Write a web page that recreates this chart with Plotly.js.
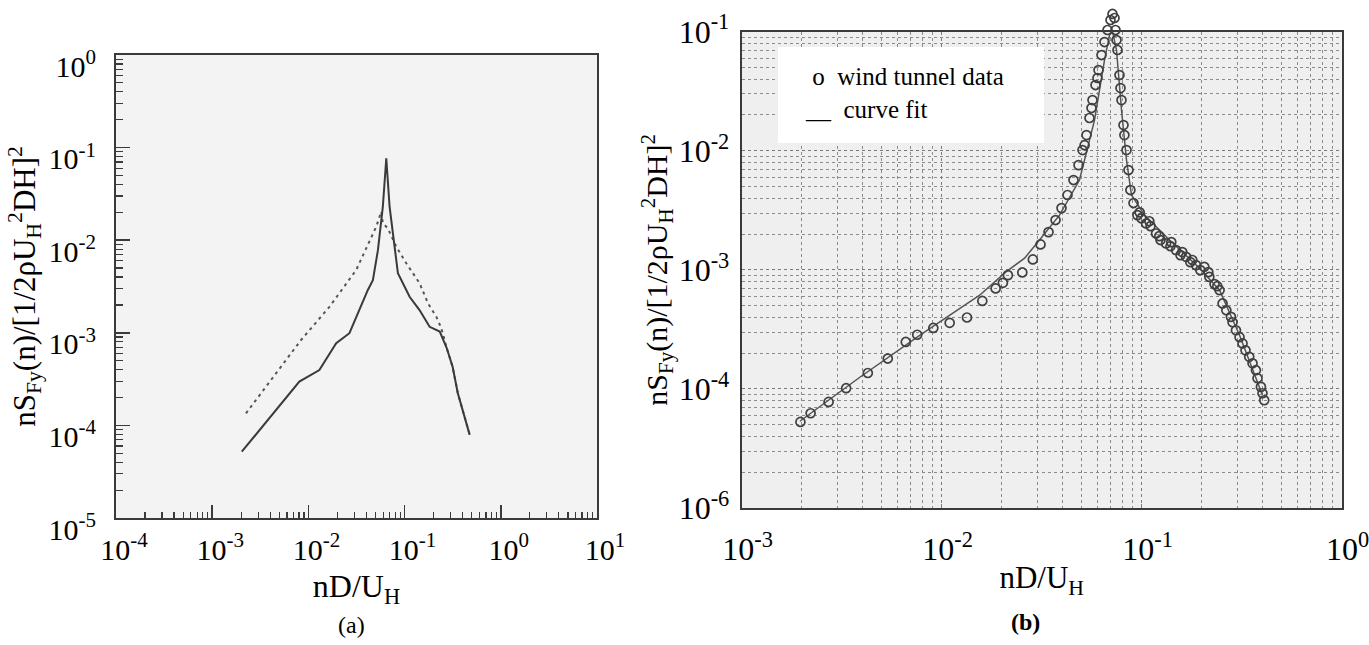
<!DOCTYPE html>
<html><head><meta charset="utf-8">
<script src="https://cdn.plot.ly/plotly-3.0.1.min.js"></script>
<style>html,body{margin:0;padding:0;background:#fff}#chart{width:1369px;height:645px}</style>
</head><body><div id="chart"></div>
<script>
// ---- Panel (a) data ----
const leftSolidX = [0.00203, 0.00805, 0.0130, 0.01945, 0.0267, 0.0415, 0.0468, 0.0528, 0.0594, 0.0645, 0.0698, 0.0787, 0.0852, 0.1127, 0.143, 0.182, 0.232, 0.274, 0.316, 0.357, 0.412, 0.475];
const leftSolidY = [5.2e-5, 2.97e-4, 3.96e-4, 7.7e-4, 9.9e-4, 2.9e-3, 3.7e-3, 7.8e-3, 0.023, 0.0766, 0.023, 7.8e-3, 4.4e-3, 2.45e-3, 1.76e-3, 1.16e-3, 1.03e-3, 6.85e-4, 4.27e-4, 2.24e-4, 1.29e-4, 7.9e-5];
const leftDotX = [0.002244, 0.00839, 0.01656, 0.03141, 0.0507, 0.05717, 0.05943, 0.06699, 0.0819, 0.1042, 0.1432, 0.175, 0.2138, 0.2411, 0.274, 0.316, 0.357, 0.412, 0.475];
const leftDotY = [1.35e-4, 8.36e-4, 1.91e-3, 4.77e-3, 0.01399, 0.02032, 0.01522, 0.01344, 8.51e-3, 5.63e-3, 3.43e-3, 2.08e-3, 1.49e-3, 1.12e-3, 6.85e-4, 4.27e-4, 2.24e-4, 1.29e-4, 7.9e-5];

// ---- Panel (b) data ----
const tunnelX = [0.001966,0.002211,0.002719,0.003328,0.004272,0.005375,0.006612,0.007545,0.00908,0.01096,
  0.01338,0.01596,0.01861,0.02023,0.02143,0.02529,0.02856,0.0312,0.03421,0.03709,
  0.03973,0.04256,0.0456,0.04831,0.05058,0.05297,0.05483,0.05676,0.05875,0.06082,
  0.06296,0.06517,0.06746,0.06983,0.07146,0.07312,0.07396,0.07568,0.07745,0.07925,
  0.0811,0.08395,0.0859,0.0878,0.091,0.0952,0.0996,0.1052,0.1107,0.118,
  0.1242,0.1324,0.1393,0.1485,0.1563,0.1666,0.1751,0.1869,0.1963,0.2056,
  0.2178,0.2314,0.2451,0.2537,0.2649,0.2794,0.296,0.3085,0.3193,0.3449,
  0.3582,0.3725,0.3946,0.4018,0.4099,
  0.0977,0.1092,0.1225,0.1406,0.1596,0.1791,0.2153,0.2388,0.2846,0.3305,0.3794,
  0.05182,0.05609,0.0601,0.07482,0.07834,0.08195];
const tunnelY = [5.28e-5,6.25e-5,7.78e-5,1.014e-4,1.36e-4,1.80e-4,2.48e-4,2.85e-4,3.25e-4,3.59e-4,
  3.98e-4,5.48e-4,6.98e-4,7.78e-4,9.03e-4,9.51e-4,1.223e-3,1.635e-3,2.075e-3,2.62e-3,
  3.30e-3,4.25e-3,5.68e-3,7.58e-3,0.01014,0.01355,0.01884,0.02667,0.03565,0.04764,
  0.06368,0.0819,0.1033,0.1254,0.1409,0.1303,0.1033,0.0702,0.04325,0.02667,
  0.01644,0.01014,6.89e-3,4.68e-3,3.64e-3,2.88e-3,2.71e-3,2.45e-3,2.33e-3,2.02e-3,
  1.78e-3,1.667e-3,1.58e-3,1.465e-3,1.33e-3,1.286e-3,1.16e-3,1.096e-3,9.95e-4,1.06e-3,
  8.73e-4,7.59e-4,6.75e-4,5.22e-4,4.58e-4,4.03e-4,3.11e-4,2.72e-4,2.41e-4,1.86e-4,
  1.64e-4,1.436e-4,1.04e-4,9.2e-5,8.03e-5,
  3.04e-3,2.56e-3,1.92e-3,1.71e-3,1.41e-3,1.21e-3,9.57e-4,7.29e-4,3.63e-4,2.11e-4,1.23e-4,
  0.01114,0.02286,0.04083,0.0851,0.03362,0.01355];
const fitX = [0.001954,0.003897,0.007762,0.01548,0.02089,0.02597,0.03083,0.03882,0.04887,0.05808,0.06517,0.06904,0.0715,0.07482,0.07925,0.08395,0.0889,0.1033,0.1377,0.1942,0.2451,0.3085,0.4018];
const fitY = [5.35e-5,1.253e-4,2.82e-4,6.12e-4,9.57e-4,1.253e-3,1.78e-3,2.88e-3,5.68e-3,0.01811,0.0578,0.0938,0.1,0.0702,0.02198,8.35e-3,4.25e-3,2.88e-3,1.78e-3,1.035e-3,6.75e-4,2.82e-4,8.85e-5];

// ---- Tick labels ----
const leftXTickVals = [1e-4, 1e-3, 1e-2, 1e-1, 1, 10];
const leftXTickText = ["10<sup>-4</sup>","10<sup>-3</sup>","10<sup>-2</sup>","10<sup>-1</sup>","10<sup>0</sup>","10<sup>1</sup>"];
const leftYTickVals = [1e-5, 1e-4, 1e-3, 1e-2, 1e-1, 1];
const leftYTickText = ["10<sup>-5</sup>","10<sup>-4</sup>","10<sup>-3</sup>","10<sup>-2</sup>","10<sup>-1</sup>","10<sup>0</sup>"];
const rightXTickVals = [1e-3, 1e-2, 1e-1, 1];
const rightXTickText = ["10<sup>-3</sup>","10<sup>-2</sup>","10<sup>-1</sup>","10<sup>0</sup>"];
const rightYTickVals = [1e-5, 1e-4, 1e-3, 1e-2, 1e-1];
const rightYTickText = ["10<sup>-6</sup>","10<sup>-4</sup>","10<sup>-3</sup>","10<sup>-2</sup>","10<sup>-1</sup>"];

const xTitle = "nD/U<sub>H</sub>";
const yTitle = "nS<sub>Fy</sub>(n)/[1/2ρU<sub>H</sub><sup>2</sup>DH]<sup>2</sup>";
const legendText = "\u00a0o\u00a0\u00a0wind tunnel data<br>__\u00a0\u00a0curve fit";

function minorVals(lo, hi) {
  const v = [];
  for (let d = lo; d < hi; d++) for (let k = 2; k <= 9; k++) v.push(k * Math.pow(10, d));
  return v;
}

const W = 1369, H = 645;
const serif = "Liberation Serif, Times New Roman, serif";
const ink = "#3a3a3a";

// right panel pixel geometry (top of frame at 10^-1, 4 decades)
const rTop = 31.7, rBot = 508, rDec = (rBot - rTop) / 4;
const peakTop = 6; // extra room above the frame for the peak markers
const y3Top = -1 + (rTop - peakTop) / rDec;

const traces = [
  {x: leftDotX, y: leftDotY, xaxis: "x", yaxis: "y", mode: "lines", name: "dotted",
   line: {color: "#555", width: 2, dash: "3px,4px"}, showlegend: false},
  {x: leftSolidX, y: leftSolidY, xaxis: "x", yaxis: "y", mode: "lines", name: "solid",
   line: {color: ink, width: 2}, showlegend: false},
  {x: fitX, y: fitY, xaxis: "x2", yaxis: "y2", mode: "lines", name: "curve fit",
   line: {color: "#555", width: 1.5}, showlegend: false},
  {x: tunnelX, y: tunnelY, xaxis: "x3", yaxis: "y3", mode: "markers", name: "wind tunnel data",
   marker: {symbol: "circle-open", size: 9, color: "#404040", line: {width: 1.7, color: "#404040"}},
   cliponaxis: false, showlegend: false}
];

const axisFrame = {showline: true, linecolor: ink, linewidth: 2, mirror: true, zeroline: false};

const layout = {
  width: W, height: H,
  margin: {l: 0, r: 0, t: 0, b: 0},
  paper_bgcolor: "#ffffff",
  plot_bgcolor: "rgba(0,0,0,0)",
  showlegend: false,
  font: {family: serif, color: "#000"},
  xaxis: Object.assign({}, axisFrame, {
    type: "log", range: [-4, 1], domain: [116/W, 597/W], anchor: "y",
    tickmode: "array", tickvals: leftXTickVals, ticktext: leftXTickText,
    ticks: "inside", ticklen: 13, tickwidth: 1.5, tickcolor: ink,
    minor: {tickmode: "array", tickvals: minorVals(-4, 1), ticks: "inside", ticklen: 6, tickwidth: 1.2, tickcolor: ink, showgrid: false},
    showgrid: false, tickfont: {size: 30, family: serif}, ticklabelstandoff: 4, ticklabelshift: 8,
    ticklabeloverflow: "allow",
    title: {text: xTitle, font: {size: 32, family: serif}, standoff: 10}
  }),
  yaxis: Object.assign({}, axisFrame, {
    type: "log", range: [-5, 0], domain: [1 - 518/H, 1 - 55/H], anchor: "x",
    tickmode: "array", tickvals: leftYTickVals, ticktext: leftYTickText,
    ticks: "inside", ticklen: 14, tickwidth: 1.5, tickcolor: ink,
    minor: {tickmode: "array", tickvals: minorVals(-5, 0), ticks: "inside", ticklen: 7, tickwidth: 1.2, tickcolor: ink, showgrid: false},
    showgrid: false, tickfont: {size: 30, family: serif}, ticklabelstandoff: 12, ticklabelshift: 11,
    ticklabeloverflow: "allow",
    title: {text: yTitle, font: {size: 31, family: serif}, standoff: 4}
  }),
  xaxis2: Object.assign({}, axisFrame, {
    type: "log", range: [-3, 0], domain: [741.7/W, 1341.7/W], anchor: "y2",
    tickmode: "array", tickvals: rightXTickVals, ticktext: rightXTickText,
    ticks: "inside", ticklen: 4, tickwidth: 1, tickcolor: "#777",
    showgrid: true, gridcolor: "#7a7a7a", gridwidth: 1, griddash: "dot",
    minor: {tickmode: "array", tickvals: minorVals(-3, 0), showgrid: true, gridcolor: "#8c8c8c", gridwidth: 1, griddash: "dot", ticks: ""},
    tickfont: {size: 32, family: serif}, ticklabelstandoff: 12, ticklabelshift: 6,
    ticklabeloverflow: "allow",
    title: {text: xTitle, font: {size: 31, family: serif}, standoff: 0}
  }),
  yaxis2: Object.assign({}, axisFrame, {
    type: "log", range: [-5, -1], domain: [1 - rBot/H, 1 - rTop/H], anchor: "x2",
    tickmode: "array", tickvals: rightYTickVals, ticktext: rightYTickText,
    ticks: "", showgrid: true, gridcolor: "#7a7a7a", gridwidth: 1, griddash: "dot",
    minor: {tickmode: "array", tickvals: minorVals(-5, -1), showgrid: true, gridcolor: "#8c8c8c", gridwidth: 1, griddash: "dot", ticks: ""},
    tickfont: {size: 32, family: serif}, ticklabelstandoff: 4,
    ticklabeloverflow: "allow",
    title: {text: yTitle, font: {size: 30, family: serif}, standoff: 2}
  }),
  // same scale as x2/y2, with a little room above the frame so the peak of the data shows
  xaxis3: {type: "log", range: [-3, 0], domain: [741.7/W, 1341.7/W], anchor: "y3", visible: false},
  yaxis3: {type: "log", range: [-5, y3Top], domain: [1 - rBot/H, 1 - peakTop/H], anchor: "x3", visible: false},
  shapes: [
    {type: "rect", xref: "x domain", yref: "y domain", x0: 0, x1: 1, y0: 0, y1: 1,
     fillcolor: "#f3f3f3", line: {width: 0}, layer: "below"},
    {type: "rect", xref: "x2 domain", yref: "y2 domain", x0: 0, x1: 1, y0: 0, y1: 1,
     fillcolor: "#efefef", line: {width: 0}, layer: "below"},
    {type: "rect", xref: "paper", yref: "paper", x0: 778/W, x1: 1044/W, y0: 1 - 143/H, y1: 1 - 47/H,
     fillcolor: "#ffffff", line: {width: 0}, layer: "above"}
  ],
  annotations: [
    {xref: "paper", yref: "paper", x: 803/W, y: 1 - 93/H, xanchor: "left", yanchor: "middle",
     text: legendText, align: "left", showarrow: false, font: {size: 25, family: serif, color: "#000"}},
    {xref: "paper", yref: "paper", x: 352/W, y: 1 - 625/H, xanchor: "center", yanchor: "middle",
     text: "(a)", showarrow: false, font: {size: 24, family: serif, color: "#000"}},
    {xref: "paper", yref: "paper", x: 1025/W, y: 1 - 622/H, xanchor: "center", yanchor: "middle",
     text: "<b>(b)</b>", showarrow: false, font: {size: 24, family: serif, color: "#000"}}
  ]
};

Plotly.newPlot("chart", traces, layout, {displayModeBar: false, staticPlot: true});
</script>
</body></html>
